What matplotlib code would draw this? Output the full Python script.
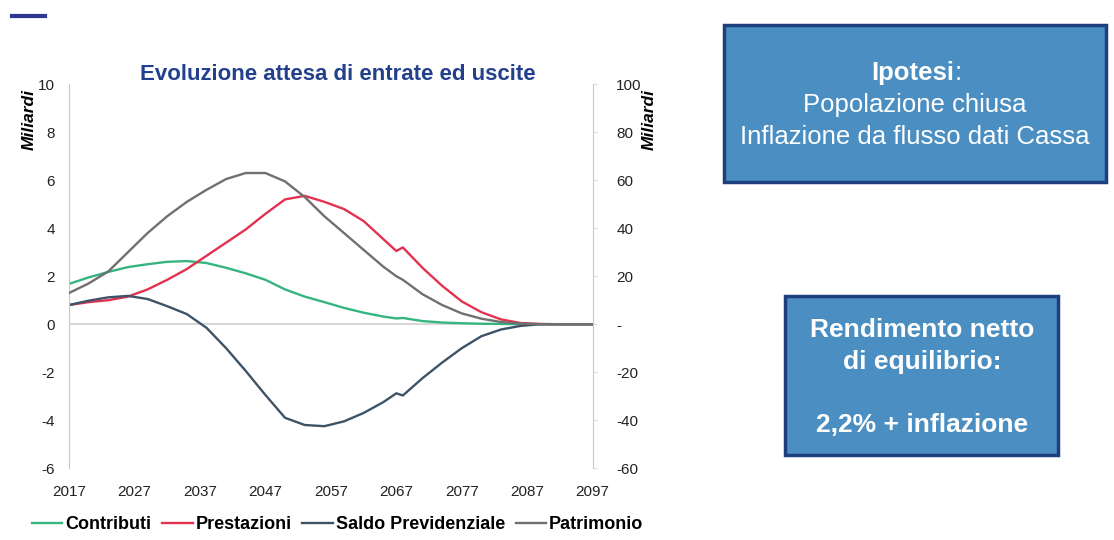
import numpy as np
import matplotlib
matplotlib.use("Agg")
import matplotlib.pyplot as plt
from matplotlib.lines import Line2D
from matplotlib.patches import Rectangle

plt.rcParams['font.family'] = ['Liberation Sans', 'DejaVu Sans']
plt.rcParams['axes.unicode_minus'] = False

# Projection years and series (billions of euro)
years = [2017, 2020, 2023, 2026, 2029, 2032, 2035, 2038, 2041, 2044, 2047, 2050,
         2053, 2056, 2059, 2062, 2065, 2067, 2068, 2071, 2074, 2077, 2080, 2083,
         2086, 2089, 2092, 2097]
contributi = [1.68, 1.95, 2.18, 2.38, 2.50, 2.60, 2.63, 2.55, 2.35, 2.12, 1.85, 1.45,
              1.15, 0.92, 0.68, 0.48, 0.32, 0.24, 0.26, 0.13, 0.07, 0.04, 0.02, 0.01,
              0.0, 0.0, 0.0, 0.0]
prestazioni = [0.80, 0.92, 1.00, 1.15, 1.45, 1.85, 2.30, 2.85, 3.40, 3.95, 4.60, 5.20,
               5.35, 5.10, 4.80, 4.30, 3.55, 3.05, 3.20, 2.35, 1.60, 0.95, 0.50, 0.20,
               0.05, 0.01, 0.0, 0.0]
saldo = [0.80, 0.98, 1.12, 1.18, 1.05, 0.75, 0.42, -0.15, -1.00, -1.95, -2.95, -3.90,
         -4.20, -4.25, -4.05, -3.70, -3.25, -2.88, -2.97, -2.25, -1.60, -1.00, -0.50, -0.22,
         -0.07, 0.0, 0.0, 0.0]
patrimonio = [13, 17, 22, 30, 38, 45, 51, 56, 60.5, 63, 63, 59.5,
              53, 45, 38, 31, 24, 20, 18.5, 12.5, 8, 4.5, 2.3, 0.9,
              0.3, 0.0, 0.0, 0.0]

left_ticks = [-6, -4, -2, 0, 2, 4, 6, 8, 10]
right_ticks = [-60, -40, -20, 0, 20, 40, 60, 80, 100]
right_labels = ['-60', '-40', '-20', '-', '20', '40', '60', '80', '100']
x_ticks = list(range(2017, 2098, 10))

c_green = '#35b57f'
c_red = '#e3324f'
c_blue = '#3e5367'
c_gray = '#707070'
box_fill = '#4b8fc2'
box_edge = '#1e3e7c'

fig = plt.figure(figsize=(11.14, 5.4), dpi=100)
ax = fig.add_axes([0.062, 0.133, 0.470, 0.711])
ax2 = ax.twinx()

ax.axhline(0, color='#cfcfcf', lw=1.2, zorder=1)
l1, = ax.plot(years, contributi, color=c_green, lw=1.7, label='Contributi')
l2, = ax.plot(years, prestazioni, color=c_red, lw=1.7, label='Prestazioni')
l3, = ax.plot(years, saldo, color=c_blue, lw=1.7, label='Saldo Previdenziale')
l4, = ax2.plot(years, patrimonio, color=c_gray, lw=1.7, label='Patrimonio')

ax.set_xlim(2017, 2097)
ax.set_ylim(-6, 10)
ax2.set_ylim(-60, 100)
ax.set_xticks(x_ticks)
ax.set_yticks(left_ticks)
ax2.set_yticks(right_ticks)
ax2.set_yticklabels(right_labels)

for a in (ax, ax2):
    for s in ('top', 'bottom'):
        a.spines[s].set_visible(False)
    for s in ('left', 'right'):
        a.spines[s].set_color('#c8c8c8')
ax.spines['right'].set_visible(False)
ax2.spines['left'].set_visible(False)

ax.tick_params(axis='y', length=0, pad=10, labelsize=11, colors='#222222')
ax.tick_params(axis='x', length=0, pad=12, labelsize=11, colors='#222222')
ax2.tick_params(axis='y', length=3, color='#dddddd', pad=14, labelsize=11, colors='#222222')
for lab in ax2.get_yticklabels():
    lab.set_horizontalalignment('left')

fig.text(0.026, 0.778, 'Miliardi', rotation=90, ha='center', va='center',
         fontsize=12.5, fontweight='bold', fontstyle='italic')
fig.text(0.583, 0.778, 'Miliardi', rotation=90, ha='center', va='center',
         fontsize=12.5, fontweight='bold', fontstyle='italic')

fig.text(0.303, 0.862, 'Evoluzione attesa di entrate ed uscite', ha='center', va='center',
         fontsize=16, fontweight='bold', color='#23408e')

# small mark at the top left
fig.add_artist(Line2D([0.011, 0.040], [0.971, 0.971], color='#2b3a8f', lw=3))

fig.legend(handles=[l1, l2, l3, l4], loc='center', bbox_to_anchor=(0.303, 0.028),
           ncol=4, frameon=False, handlelength=1.7, handletextpad=0.15, columnspacing=0.6,
           prop={'size': 13, 'weight': 'bold'})

# info boxes on the right
fig.add_artist(Rectangle((0.650, 0.663), 0.343, 0.290, transform=fig.transFigure,
                         facecolor=box_fill, edgecolor=box_edge, lw=2.5))
fig.text(0.857, 0.865, 'Ipotesi', ha='right', va='center', fontsize=18.5,
         fontweight='bold', color='white')
fig.text(0.857, 0.865, ':', ha='left', va='center', fontsize=18.5, color='white')
fig.text(0.8215, 0.806, 'Popolazione chiusa', ha='center', va='center', fontsize=18.5,
         color='white')
fig.text(0.8215, 0.746, 'Inflazione da flusso dati Cassa', ha='center', va='center',
         fontsize=18.5, color='white')

fig.add_artist(Rectangle((0.705, 0.157), 0.245, 0.295, transform=fig.transFigure,
                         facecolor=box_fill, edgecolor=box_edge, lw=2.5))
fig.text(0.8275, 0.389, 'Rendimento netto', ha='center', va='center', fontsize=19,
         fontweight='bold', color='white')
fig.text(0.8275, 0.330, 'di equilibrio:', ha='center', va='center', fontsize=19,
         fontweight='bold', color='white')
fig.text(0.8275, 0.213, '2,2% + inflazione', ha='center', va='center', fontsize=19,
         fontweight='bold', color='white')

fig.savefig('out.png', dpi=100)
